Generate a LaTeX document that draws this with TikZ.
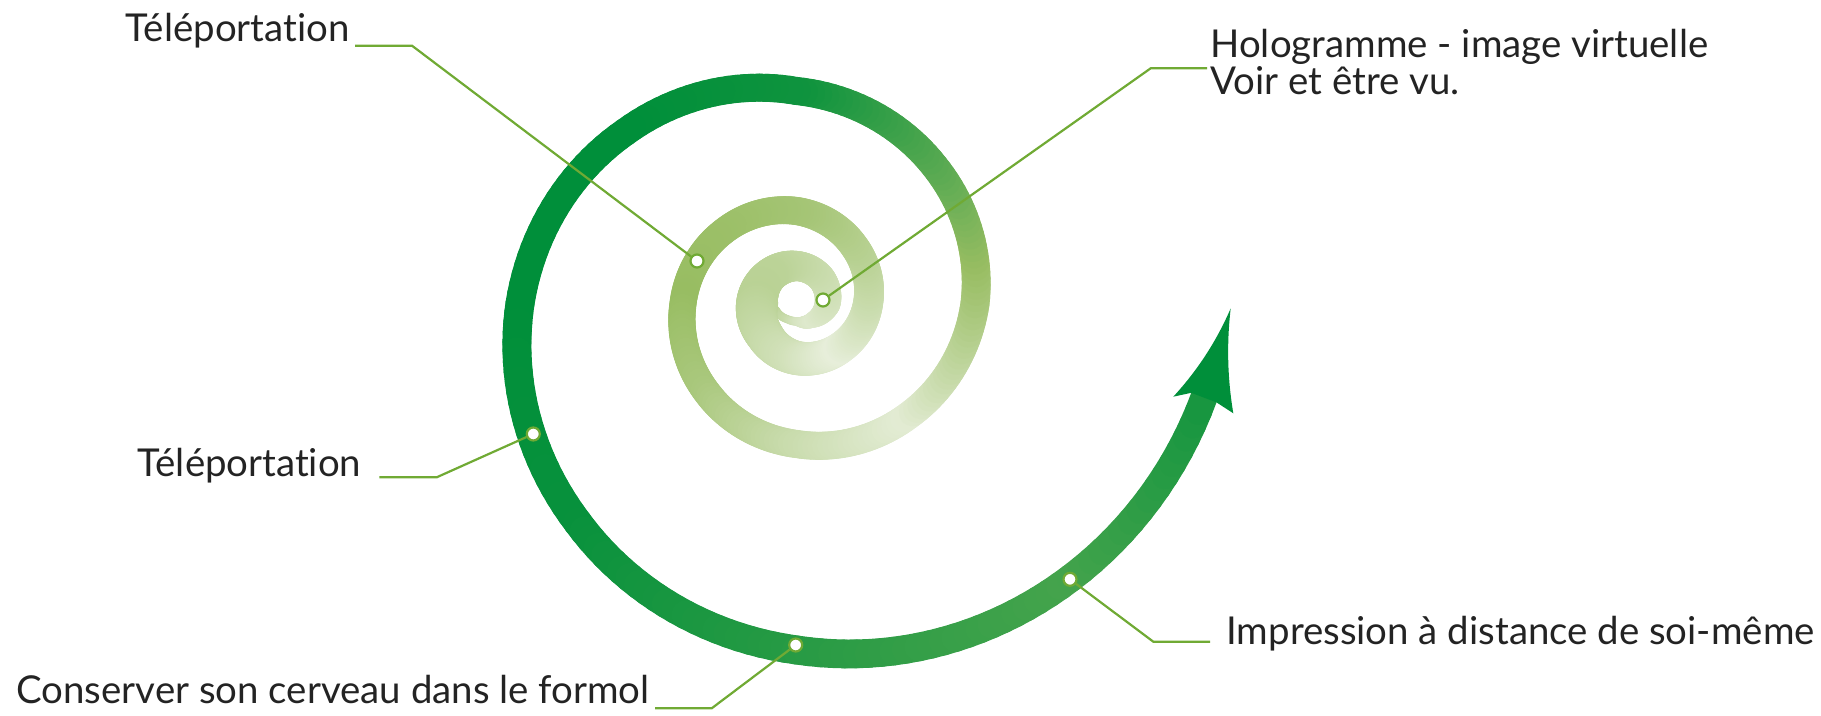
\documentclass[tikz,border=0pt]{standalone}
\usepackage{fontspec}
\setmainfont{Lato}[Ligatures=NoCommon]
\usepackage{xcolor}
\definecolor{spdark}{RGB}{0,143,58}
\definecolor{spmid}{RGB}{152,189,98}
\definecolor{sppale}{RGB}{240,244,232}
\definecolor{leadgreen}{RGB}{112,170,52}
\definecolor{ink}{RGB}{35,35,35}

\begin{document}
\begin{tikzpicture}[
  x=0.5pt, y=-0.5pt,
  lbl/.style={font=\fontsize{19.2}{18.85}\selectfont, text=ink, inner sep=0pt},
  lead/.style={draw=leadgreen, line width=1.1pt},
  pin/.style={circle, draw=leadgreen, fill=white, line width=1.1pt,
              minimum size=6.5pt, inner sep=0pt},
  band/.style={line cap=round}
]
\useasboundingbox (0,0) rectangle (1821,716);

% spiral band, centre outwards: angle/radius/width/shade
\foreach \tb/\rb/\wb/\sb [remember=\tb as \ta (initially 195),
    remember=\rb as \ra (initially 22), remember=\wb as \wa (initially 8),
    remember=\sb as \sa (initially 0.6)] in
  {240/18/8/0.45, 270/17.7/8.6/0.3, 315/22.7/16/0.2, 360/31/26/0.3,
   405/35.3/28/0.4, 450/37.6/30/0.5, 495/38.8/35/0.6, 540/39.5/42/0.62,
   585/45/38/0.5, 630/54.4/34/0.35, 675/62.3/32/0.1, 720/71.4/30/0.4,
   765/81.3/29/0.65, 810/92.6/28/0.85, 855/102.6/27/0.95, 900/113.6/27/1.0,
   945/126.3/28/0.8, 990/140.4/28/0.45, 1035/158.3/28/0.15, 1080/178.4/29/0.8,
   1125/194.8/28/1.4, 1170/212.6/28/1.9, 1215/242.5/28/2, 1260/276.6/29/2,
   1305/309.5/29/1.95, 1350/346.4/29/1.75, 1395/388/28/1.55, 1427/418/27/1.85}
{
  \pgfmathsetmacro\n{int(ceil((\tb-\ta)/2))}
  \foreach \k in {1,...,\n} {
    \pgfmathsetmacro\tu{\ta+(\k-1)/\n*(\tb-\ta)}
    \pgfmathsetmacro\tv{\ta+\k/\n*(\tb-\ta)}
    \pgfmathsetmacro\ru{\ra+(\k-1)/\n*(\rb-\ra)}
    \pgfmathsetmacro\rv{\ra+\k/\n*(\rb-\ra)}
    \pgfmathsetmacro\w{0.5*(\wa+(\k-0.5)/\n*(\wb-\wa))}
    \pgfmathsetmacro\s{\sa+(\k-0.5)/\n*(\sb-\sa)}
    \pgfmathsetmacro\pa{max(0,min(100,100*(1-\s)))}
    \pgfmathsetmacro\pb{max(0,min(100,100*(2-\s)))}
    \draw[band, line width=\w pt, color=sppale!\pa!spmid!\pb!spdark]
      ({796.6+\ru*cos(\tu)},{303.6-\ru*sin(\tu)}) --
      ({796.6+\rv*cos(\tv)},{303.6-\rv*sin(\tv)});
  }
}

% arrow head
\fill[spdark] (1191.3,392.8) -- (1173.3,396.7)
  .. controls (1197.4,370.5) and (1216.6,341.1) .. (1230.7,308.3)
  .. controls (1226.6,343.3) and (1227.4,378.3) .. (1233.3,413.3)
  -- (1216.5,402.4) -- cycle;

% labels
\node[lbl, anchor=base east] (tele1) at (350,41.7) {Téléportation};
\node[lbl, anchor=base west, align=left] (holo) at (1210,95)
  {Hologramme - image virtuelle\\Voir et être vu.};
\node[lbl, anchor=base east] (tele2) at (361.7,477) {Téléportation};
\node[lbl, anchor=base east] (cerveau) at (650,703.3)
  {Conserver son cerveau dans le formol};
\node[lbl, anchor=base west] (impr) at (1226,644)
  {Impression à distance de soi-même};

% pins on the band
\node[pin] (d1) at (697,261) {};
\node[pin] (d2) at (823,300) {};
\node[pin] (d3) at (533.3,434) {};
\node[pin] (d4) at (795.7,645) {};
\node[pin] (d5) at (1070,579.3) {};

% leader lines
\coordinate (e1) at (355,45.7);    \coordinate (k1) at (412,45.7);
\coordinate (e2) at (1207,68.3);   \coordinate (k2) at (1150.7,68.3);
\coordinate (e3) at (379.3,477.3); \coordinate (k3) at (436.7,477.3);
\coordinate (e4) at (655,708.3);   \coordinate (k4) at (711.7,708.3);
\coordinate (e5) at (1210,641.7);  \coordinate (k5) at (1153.3,641.7);
\draw[lead] (e1) -- (k1) -- (d1);
\draw[lead] (e2) -- (k2) -- (d2);
\draw[lead] (e3) -- (k3) -- (d3);
\draw[lead] (e4) -- (k4) -- (d4);
\draw[lead] (e5) -- (k5) -- (d5);

\end{tikzpicture}
\end{document}
